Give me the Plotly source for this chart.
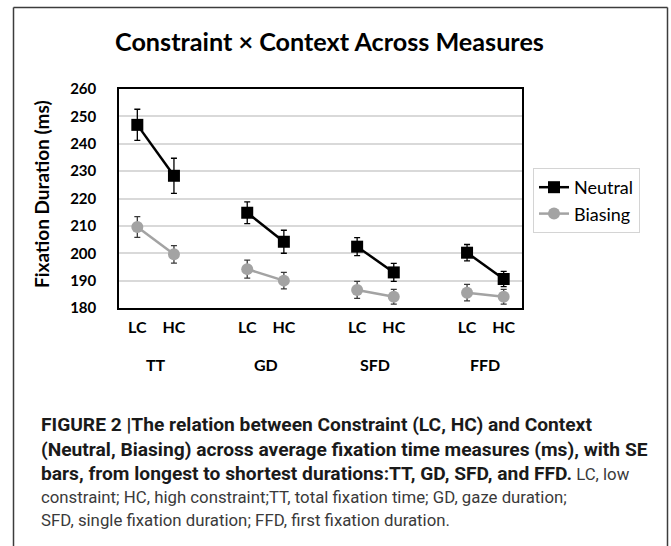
import plotly.graph_objects as go

# ---- data ----
measures = ["TT", "GD", "SFD", "FFD"]
levels = ["LC", "HC"]
neutral = [246.9, 228.3, 214.8, 204.2, 202.4, 193.0, 200.2, 190.6]
neutral_se = [5.7, 6.4, 4.0, 4.2, 3.3, 3.3, 3.0, 2.8]
biasing = [209.6, 199.6, 194.2, 190.0, 186.6, 184.1, 185.6, 184.1]
biasing_se = [3.8, 3.2, 3.3, 3.0, 3.1, 2.7, 3.0, 2.7]
y_ticks = [180, 190, 200, 210, 220, 230, 240, 250, 260]

W, H = 671, 546
L, R, T, B = 119, 522, 89, 308  # plot area in px


def px(xp):
    return (xp - L) / (R - L)


def py(yp):
    return (B - yp) / (B - T)


# build x positions with gaps between measures
xs, tickvals, ticktext = [], [], []
for g, m in enumerate(measures):
    for j, lv in enumerate(levels):
        xs.append(3 * g + j)
        tickvals.append(3 * g + j)
        ticktext.append(lv)


def with_gaps(vals):
    out = []
    for g in range(len(measures)):
        out += vals[2 * g:2 * g + 2] + [None]
    return out[:-1]


xg = with_gaps(xs)

fig = go.Figure()
fig.add_trace(go.Scatter(
    x=xg, y=with_gaps(neutral), name="Neutral", mode="lines+markers",
    line=dict(color="black", width=2.5),
    marker=dict(symbol="square", size=12, color="black"),
    error_y=dict(type="data", array=[v if v is not None else 0 for v in with_gaps(neutral_se)],
                 color="black", thickness=1.3, width=3),
    connectgaps=False,
))
fig.add_trace(go.Scatter(
    x=xg, y=with_gaps(biasing), name="Biasing", mode="lines+markers",
    line=dict(color="#a3a3a3", width=2.5),
    marker=dict(symbol="circle", size=12, color="#a3a3a3"),
    error_y=dict(type="data", array=[v if v is not None else 0 for v in with_gaps(biasing_se)],
                 color="#3a3a3a", thickness=1.3, width=3),
    connectgaps=False,
))

font_main = "Lato, Open Sans, sans-serif"

fig.update_layout(
    width=W, height=H,
    margin=dict(l=L, r=W - R, t=T, b=H - B, pad=0),
    paper_bgcolor="white", plot_bgcolor="white",
    showlegend=True,
    legend=dict(x=px(533), y=py(168), xanchor="left", yanchor="top",
                bordercolor="#d4d4d4", borderwidth=1,
                font=dict(family=font_main, size=18, color="black"),
                itemwidth=30, tracegroupgap=0),
    xaxis=dict(range=[-0.5, 10.5], tickvals=tickvals, ticktext=ticktext,
               showgrid=False, zeroline=False,
               showline=True, mirror=True, linecolor="black", linewidth=1.5,
               ticks="", ticklabelstandoff=4,
               tickfont=dict(family=font_main, size=16, color="black", weight="bold")),
    yaxis=dict(range=[180, 260], tickvals=y_ticks,
               showgrid=True, gridcolor="#d9d9d9", gridwidth=1.5, zeroline=False,
               showline=True, mirror=True, linecolor="black", linewidth=1.5,
               ticks="", ticklabelstandoff=18,
               tickfont=dict(family=font_main, size=15, color="black", weight="bold")),
)

# frame around figure (drawn as separate lines in pixel-derived paper coords)
frame = dict(color="#3c3c3c", width=1.5)
fig.add_shape(type="line", xref="paper", yref="paper",
              x0=px(13.5), x1=px(13.5), y0=py(560), y1=py(7.5), line=frame)
fig.add_shape(type="line", xref="paper", yref="paper",
              x0=px(667.5), x1=px(667.5), y0=py(560), y1=py(7.5), line=frame)
fig.add_shape(type="line", xref="paper", yref="paper",
              x0=px(13.5), x1=px(667.5), y0=py(7.5), y1=py(7.5), line=frame)

# title
fig.add_annotation(text="<b>Constraint × Context Across Measures</b>",
                   xref="paper", yref="paper", x=px(329), y=py(41),
                   xanchor="center", yanchor="middle", showarrow=False,
                   font=dict(family=font_main, size=25.2, color="black"))

# y axis title
fig.add_annotation(text="<b>Fixation Duration (ms)</b>", textangle=-90,
                   xref="paper", yref="paper", x=px(41), y=py(194),
                   xanchor="center", yanchor="middle", showarrow=False,
                   font=dict(family=font_main, size=19, color="black"))

# measure group labels
for g, m in enumerate(measures):
    fig.add_annotation(text="<b>%s</b>" % m, xref="x", yref="paper",
                       x=3 * g + 0.5, y=py(364), xanchor="center", yanchor="middle",
                       showarrow=False,
                       font=dict(family=font_main, size=16, color="black"))

# caption
cap_font = "Liberation Sans Narrow, Arial Narrow, Roboto, sans-serif"
reg = '<span style="font-size:16.8px;fill:#3a3a3a">%s</span>'
caption = [
    "<b>FIGURE 2 |The relation between Constraint (LC, HC) and Context</b>",
    "<b>(Neutral, Biasing) across average fixation time measures (ms), with SE</b>",
    "<b>bars, from longest to shortest durations:TT, GD, SFD, and FFD.</b>" + reg % " LC, low",
    reg % "constraint; HC, high constraint;TT, total fixation time; GD, gaze duration;",
    reg % "SFD, single fixation duration; FFD, first fixation duration.",
]
cap_y = [424, 449, 473, 497, 520]
for line, yy in zip(caption, cap_y):
    fig.add_annotation(text=line, xref="paper", yref="paper",
                       x=px(39), y=py(yy), xanchor="left", yanchor="middle",
                       showarrow=False,
                       font=dict(family=cap_font, size=19.2, color="#1a1a1a"))

fig.write_html("out.html", config={"displayModeBar": False},
               post_script="document.body.style.margin='0';document.body.style.overflow='hidden';")
